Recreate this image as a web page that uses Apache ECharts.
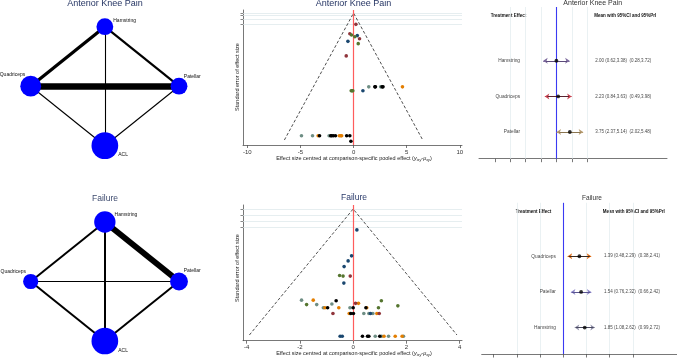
<!DOCTYPE html>
<html><head><meta charset="utf-8">
<script src="https://cdn.jsdelivr.net/npm/echarts@6/dist/echarts.min.js"></script>
<style>html,body{margin:0;padding:0;background:#fff}#c{width:677px;height:359px}</style>
</head><body><div id="c"></div><script>
// ---------- DATA ----------
// Network plots (circle order, clockwise from top)
const treatments = ['Hamstring', 'Patellar', 'ACL', 'Quadriceps'];
const nodeWeightKnee = [0.63, 0.63, 1.0, 0.78];   // relative node size
const nodeWeightFail = [0.80, 0.67, 1.0, 0.57];
const edgePairs = [['Hamstring','Patellar'],['Hamstring','ACL'],['Hamstring','Quadriceps'],['Patellar','ACL'],['Patellar','Quadriceps'],['ACL','Quadriceps']];
const studiesKnee = [2, 1, 3, 1, 6, 1];
const studiesFail = [6, 2, 2, 2, 1, 2];

// Funnel plots: [centred effect, standard error]
const kneeMaroon = [[0.22,0.295],[-0.35,0.54],[0.56,0.67],[-0.69,1.12]];
const kneeGreen  = [[-0.19,0.575],[0.12,0.62],[0.44,0.80],[-0.22,2.03],[-0.14,2.03],[-0.07,2.03]];
const kneeNavy   = [[0.35,0.59],[-0.53,0.74],[0.88,2.03]];
const kneeTeal   = [[1.43,1.93],[2.55,1.93],[-4.9,3.21],[-3.86,3.21],[-2.3,3.21]];
const kneeOrange = [[4.6,1.93],[-3.33,3.21],[-1.34,3.21],[-1.2,3.21],[-1.12,3.21]];
const kneeBlack  = [[2.0,1.93],[2.06,1.93],[2.68,1.93],[2.77,1.93],[-3.2,3.21],[-2.15,3.21],[-2.05,3.21],[-1.9,3.21],[-1.7,3.21],[-0.65,3.21],[-0.35,3.21],[-0.25,3.35]];
const kneeSeMax = 3.32;
const kneeSeTicks = [0, 0.07, 0.165, 0.29];
const kneeXTicks = [-10, -5, 0, 5, 10];

const failNavy   = [[0.14,0.33],[-0.06,0.74],[-0.19,0.82],[-0.34,0.91],[-0.35,1.17],[0.65,1.65],[-0.49,2.01],[-0.41,2.01]];
const failGreen  = [[-0.51,1.05],[-0.38,1.06],[-1.75,1.51],[0.95,1.56],[1.06,1.45],[1.68,1.53]];
const failMaroon = [[-0.11,1.06],[-0.76,1.65],[0.09,1.49],[0.98,1.65]];
const failTeal   = [[-1.94,1.44],[-1.37,1.51],[-1.12,1.56],[-0.8,1.5],[-0.12,1.56],[0.4,1.65],[0.59,1.65],[0.74,1.65],[0.83,2.01],[1.07,2.01],[1.33,2.01],[1.89,2.01]];
const failOrange = [[-1.5,1.44],[-1.06,1.56],[-0.54,1.56],[0.2,1.49],[-0.15,1.65],[0.51,1.56],[0.89,1.65],[1.16,2.01],[1.58,2.01],[1.84,2.01]];
const failBlack  = [[-0.96,1.56],[-0.64,1.45],[0.0,1.56],[-0.09,1.65],[0.01,1.65],[0.48,1.56],[0.35,2.01],[0.54,2.01],[0.59,2.01],[1.0,2.01]];
const failSeMax = 1.99;
const failSeTicks = [0, 0.095, 0.2, 0.29];
const failXTicks = [-4, -2, 0, 2, 4];

// Forest plots
const kneeNames = ['Hamstring', 'Quadriceps', 'Patellar'];
const kneeMean  = [2.00, 2.23, 3.75];
const kneeCiLo  = [0.62, 0.84, 2.37];
const kneeCiHi  = [3.38, 3.63, 5.14];
const kneePrLo  = [0.28, 0.49, 2.02];
const kneePrHi  = [3.72, 3.98, 5.48];
const kneeRef = 2;
const failNames = ['Quadriceps', 'Patellar', 'Hamstring'];
const failMean  = [1.39, 1.54, 1.85];
const failCiLo  = [0.48, 0.76, 1.08];
const failCiHi  = [2.29, 2.32, 2.62];
const failPrLo  = [0.38, 0.66, 0.99];
const failPrHi  = [2.41, 2.42, 2.72];
const failRef = 0;
const forestTicks = [-6, -4, -2, 0, 2, 4, 6];
const kneeGridVals = [-4, -2, 0, 4, 6];
const failGridVals = [-4, -2, 2, 4, 6];

// ---------- CHART ----------
const F = '"Liberation Sans", Arial, Helvetica, sans-serif';
const chart = echarts.init(document.getElementById('c'), null, {renderer: 'canvas'});

const C = {navy:'#1a476f', maroon:'#90353b', green:'#55752f', orange:'#e37e00', teal:'#6e8e84', black:'#000000'};

function networkSeries(idx, weights, studies, labels, edgeScale) {
  return {
    type: 'graph', coordinateSystem: 'cartesian2d', xAxisIndex: idx, yAxisIndex: idx,
    silent: true, animation: false,
    itemStyle: {color: '#0000ff'},
    lineStyle: {color: '#000', opacity: 1, curveness: 0},
    label: {show: true, fontSize: 5, color: '#111', fontFamily: F},
    data: treatments.map((t, i) => {
      const a = i * Math.PI / 2;
      const x = Math.round(Math.sin(a) * 1000) / 1000, y = Math.round(-Math.cos(a) * 1000) / 1000;
      return {name: t, value: [x, y], symbolSize: weights[i] * 26.7, label: labels[t]};
    }),
    links: edgePairs.map((p, i) => ({source: p[0], target: p[1], lineStyle: {width: studies[i] * edgeScale}}))
  };
}

function scatter(data, color, idx) {
  return {type: 'scatter', xAxisIndex: idx, yAxisIndex: idx, data: data, symbolSize: 3.6,
    itemStyle: {color: color, opacity: 1}, silent: true, animation: false, z: 5};
}

// straight segments drawn through the axes of grid idx
function segs(idx, coordsList, color, width, z) {
  return {type: 'lines', coordinateSystem: 'cartesian2d', xAxisIndex: idx, yAxisIndex: idx,
    silent: true, animation: false, symbol: ['none', 'none'], z: z,
    lineStyle: {color: color, width: width, opacity: 1, type: 'solid'},
    data: coordsList.map(c => ({coords: c}))};
}

function funnelSeries(idx, seMax, seTicks, xMin, xMax, yMin, yMax, groups) {
  const out = [];
  out.push(segs(idx, seTicks.map(v => [[xMin, v], [xMax, v]]), '#dbe7ea', 0.7, 2));
  out.push({
    type: 'line', xAxisIndex: idx, yAxisIndex: idx, silent: true, animation: false, symbol: 'none',
    data: [[-1.96 * seMax, seMax], [0, 0], [1.96 * seMax, seMax]],
    lineStyle: {color: '#222', width: 0.8, type: [3, 2]}, z: 3
  });
  out.push(segs(idx, [[[0, yMin], [0, yMax]]], '#ff5c5c', 1.2, 4));
  groups.forEach(g => out.push(scatter(g[0], g[1], idx)));
  return out;
}

function forestSeries(idx, names, mean, ciLo, ciHi, prLo, prHi, ref, gridVals, yMin, yMax, colors, ciColors, nameX, valX) {
  const rows = names.map((n, i) => i + 1);
  const fmt = v => v.toFixed(2);
  return [
    segs(idx, gridVals.map(v => [[v, yMin], [v, yMax]]), '#e4eef0', 0.8, 2),
    segs(idx, [[[ref, yMin], [ref, yMax]]], '#3a3af2', 1.1, 4),
    {type: 'lines', coordinateSystem: 'cartesian2d', xAxisIndex: idx, yAxisIndex: idx, silent: true, animation: false,
      symbol: ['arrow', 'arrow'], symbolSize: 4.5, z: 5,
      lineStyle: {width: 1.2, opacity: 1},
      data: rows.map((r, i) => ({coords: [[prLo[i], r], [prHi[i], r]], lineStyle: {color: colors[i]}, itemStyle: {color: colors[i]}}))},
    {type: 'lines', coordinateSystem: 'cartesian2d', xAxisIndex: idx, yAxisIndex: idx, silent: true, animation: false,
      symbol: ['none', 'none'], z: 6,
      lineStyle: {width: 1.2, opacity: 1},
      data: rows.map((r, i) => ({coords: [[ciLo[i], r], [ciHi[i], r]], lineStyle: {color: ciColors[i]}}))},
    {type: 'scatter', xAxisIndex: idx, yAxisIndex: idx, silent: true, animation: false, z: 7,
      symbolSize: 3.8, itemStyle: {color: '#000'}, data: rows.map((r, i) => [mean[i], r])},
    {type: 'scatter', xAxisIndex: idx, yAxisIndex: idx, silent: true, animation: false, z: 7,
      symbolSize: 0.1, itemStyle: {color: 'rgba(0,0,0,0)'},
      label: {show: true, position: 'left', distance: 0, fontSize: 4.8, color: '#111', fontFamily: F,
        formatter: p => names[p.dataIndex]},
      data: rows.map(r => [nameX, r])},
    {type: 'scatter', xAxisIndex: idx, yAxisIndex: idx, silent: true, animation: false, z: 7,
      symbolSize: 0.1, itemStyle: {color: 'rgba(0,0,0,0)'},
      label: {show: true, position: 'right', distance: 0, fontSize: 4.5, color: '#111', fontFamily: F,
        formatter: p => { const i = p.dataIndex; return fmt(mean[i]) + ' (' + fmt(ciLo[i]) + ',' + fmt(ciHi[i]) + ')  (' + fmt(prLo[i]) + ',' + fmt(prHi[i]) + ')'; }},
      data: rows.map(r => [valX, r])}
  ];
}

const axisLine = {show: true, onZero: false, lineStyle: {color: '#555', width: 0.8}};
function funnelX(idx, min, max, ticks) {
  return {type: 'value', gridIndex: idx, min: min, max: max, axisLine: axisLine, position: 'bottom',
    axisTick: {show: true, length: 3, customValues: ticks, lineStyle: {color: '#555', width: 0.8}},
    axisLabel: {show: true, customValues: ticks, fontSize: 6, color: '#333', margin: 4, fontFamily: F},
    splitLine: {show: false}};
}
function funnelY(idx, min, max, ticks) {
  return {type: 'value', gridIndex: idx, min: min, max: max, inverse: true, axisLine: axisLine, position: 'left',
    axisTick: {show: true, length: 2.5, customValues: ticks, lineStyle: {color: '#555', width: 0.7}},
    axisLabel: {show: false}, splitLine: {show: false}};
}
function forestX(idx, min, max) {
  return {type: 'value', gridIndex: idx, min: min, max: max, axisLine: axisLine, position: 'bottom',
    axisTick: {show: true, length: 3.5, customValues: forestTicks, lineStyle: {color: '#555', width: 0.8}},
    axisLabel: {show: false}, splitLine: {show: false}};
}
function hiddenAxis(idx, min, max, inverse) {
  return {type: 'value', gridIndex: idx, min: min, max: max, inverse: !!inverse, show: false,
    axisLine: {show: false, onZero: false}, axisTick: {show: false}, axisLabel: {show: false},
    splitLine: {show: false}, splitArea: {show: false}, minorTick: {show: false}, minorSplitLine: {show: false}};
}

function txt(x, y, text, size, color, extra) {
  return Object.assign({type: 'text', x: x, y: y, silent: true,
    style: {text: text, fontSize: size, fill: color, fontFamily: F, align: 'center', verticalAlign: 'middle'}}, extra || {});
}
function boldTxt(x, y, text) {
  return {type: 'text', x: x, y: y, silent: true,
    style: {text: text, fontSize: 4.5, fontWeight: 'bold', fill: '#111', fontFamily: F, align: 'center', verticalAlign: 'middle'}};
}
const subRich = {
  i: {fontSize: 5.5, fontStyle: 'italic', fill: '#222', fontFamily: F},
  s: {fontSize: 3.8, fontStyle: 'italic', fill: '#222', fontFamily: F, padding: [3, 0, 0, 0]},
  n: {fontSize: 5.5, fill: '#222', fontFamily: F}
};
function xTitle(x, y) {
  return {type: 'text', x: x, y: y, silent: true,
    style: {text: '{n|Effect size centred at comparison-specific pooled effect (}{i|y}{s|ixy}{n|-}{i|μ}{s|xy}{n|)}',
      rich: subRich, align: 'center', verticalAlign: 'middle', fontFamily: F, fontSize: 5.5, fill: '#222'}};
}

const kneeLabels = {
  Hamstring: {position: 'right', distance: 0, offset: [0, -6]},
  Patellar: {position: 'right', distance: 0, offset: [-3.6, -9.7]},
  Quadriceps: {position: 'left', distance: 0, offset: [5, -11.3]},
  ACL: {position: 'right', distance: 0, offset: [0, 9.3]}
};
const failLabels = {
  Hamstring: {position: 'right', distance: 0, offset: [-1, -7.3]},
  Patellar: {position: 'right', distance: 0, offset: [-4.3, -11]},
  Quadriceps: {position: 'left', distance: 0, offset: [3, -9.4]},
  ACL: {position: 'right', distance: 0, offset: [0, 9.7]}
};

const AX = {
  kneeF: [-10.4, 10.2, -0.08, 3.45],
  failF: [-4.14, 4.09, -0.063, 2.08],
  kneeP: [-8.08, 16.4, -0.51, 3.75],
  failP: [-7.03, 9.78, -0.50, 3.74]
};

const option = {
  animation: false,
  backgroundColor: '#ffffff',
  grid: [
    {left: 243, right: 215, top: 10, bottom: 214},
    {left: 243, right: 215, top: 205, bottom: 18.3},
    {left: 479, right: 10, top: 7, bottom: 200.3},
    {left: 481.7, right: 0.3, top: 202.7, bottom: 5},
    {left: 30.7, right: 498, top: 26.7, bottom: 213.3},
    {left: 30.7, right: 498, top: 222, bottom: 18}
  ],
  xAxis: [
    funnelX(0, AX.kneeF[0], AX.kneeF[1], kneeXTicks),
    funnelX(1, AX.failF[0], AX.failF[1], failXTicks),
    forestX(2, AX.kneeP[0], AX.kneeP[1]),
    forestX(3, AX.failP[0], AX.failP[1]),
    hiddenAxis(4, -1, 1),
    hiddenAxis(5, -1, 1)
  ],
  yAxis: [
    funnelY(0, AX.kneeF[2], AX.kneeF[3], kneeSeTicks),
    funnelY(1, AX.failF[2], AX.failF[3], failSeTicks),
    hiddenAxis(2, AX.kneeP[2], AX.kneeP[3], true),
    hiddenAxis(3, AX.failP[2], AX.failP[3], true),
    hiddenAxis(4, -1, 1, true),
    hiddenAxis(5, -1, 1, true)
  ],
  series: [
    networkSeries(4, nodeWeightKnee, studiesKnee, kneeLabels, 1.1),
    networkSeries(5, nodeWeightFail, studiesFail, failLabels, 1.0),
    ...funnelSeries(0, kneeSeMax, kneeSeTicks, AX.kneeF[0], AX.kneeF[1], AX.kneeF[2], AX.kneeF[3],
      [[kneeTeal, C.teal], [kneeOrange, C.orange], [kneeNavy, C.navy], [kneeMaroon, C.maroon], [kneeGreen, C.green], [kneeBlack, C.black]]),
    ...funnelSeries(1, failSeMax, failSeTicks, AX.failF[0], AX.failF[1], AX.failF[2], AX.failF[3],
      [[failTeal, C.teal], [failOrange, C.orange], [failNavy, C.navy], [failMaroon, C.maroon], [failGreen, C.green], [failBlack, C.black]]),
    ...forestSeries(2, kneeNames, kneeMean, kneeCiLo, kneeCiHi, kneePrLo, kneePrHi, kneeRef, kneeGridVals, AX.kneeP[2], AX.kneeP[3],
      ['#7d6b9e', '#c8414f', '#b59a6e'], ['#5b4a7a', '#5a2330', '#8a7550'], -2.73, 7.05),
    ...forestSeries(3, failNames, failMean, failCiLo, failCiHi, failPrLo, failPrHi, failRef, failGridVals, AX.failP[2], AX.failP[3],
      ['#e06a10', '#8c86c8', '#8f8fa8'], ['#3a2a20', '#5a5590', '#4a4a60'], -0.63, 3.51)
  ],
  graphic: [
    txt(105, 3.2, 'Anterior Knee Pain', 9, '#1f2f5f'),
    txt(353.5, 3.2, 'Anterior Knee Pain', 9, '#1f2f5f'),
    txt(592.7, 3, 'Anterior Knee Pain', 7, '#333'),
    txt(105, 198.3, 'Failure', 8.5, '#3d4a6e'),
    txt(354, 198, 'Failure', 8.5, '#2a3a6a'),
    txt(592, 198, 'Failure', 6.5, '#333'),
    boldTxt(508.5, 16, 'Treatment Effect'),
    boldTxt(625.3, 16, 'Mean with 95%CI and 95%PrI'),
    boldTxt(533.5, 212, 'Treatment Effect'),
    boldTxt(633.7, 212, 'Mean with 95%CI and 95%PrI'),
    txt(237, 77, 'Standard error of effect size', 5.5, '#222', {rotation: Math.PI / 2}),
    txt(237, 268, 'Standard error of effect size', 5.5, '#222', {rotation: Math.PI / 2}),
    xTitle(354, 158),
    xTitle(354, 353.3)
  ]
};
chart.setOption(option);
</script></body></html>
